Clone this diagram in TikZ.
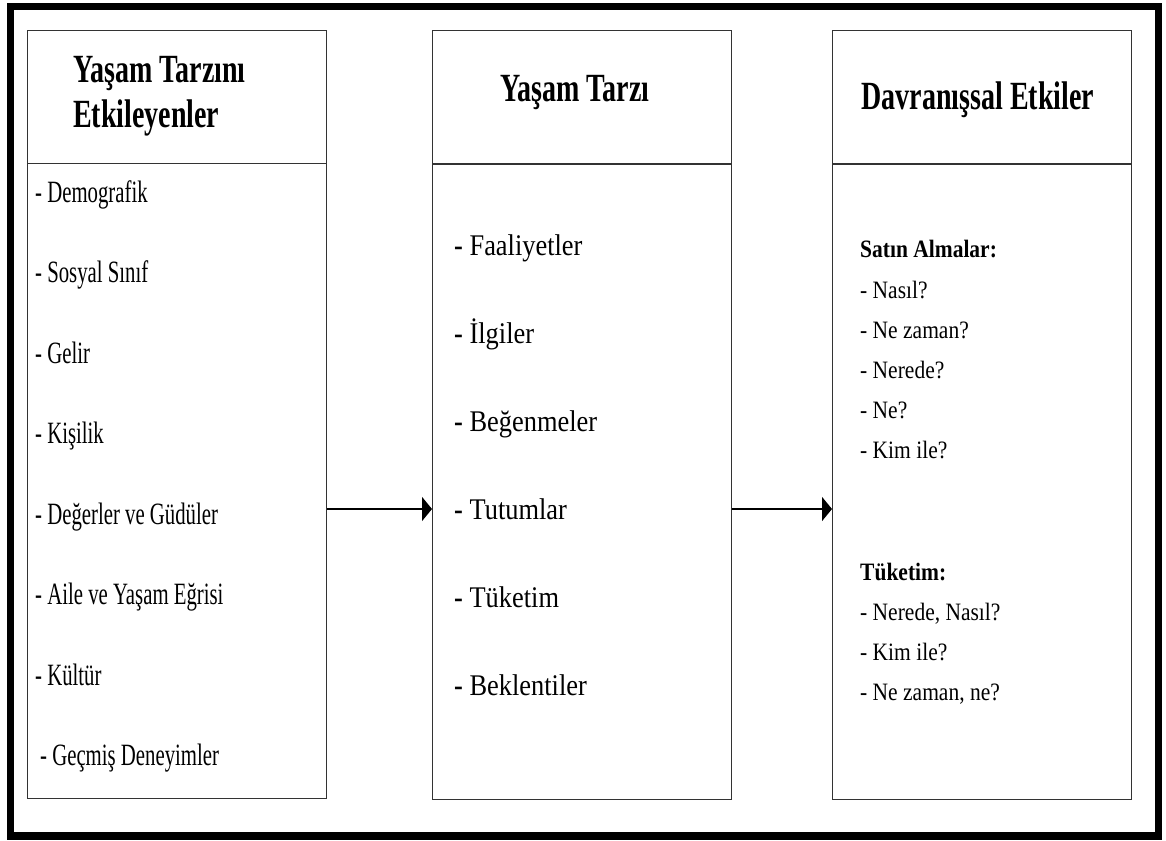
\documentclass[tikz,border=0pt]{standalone}
\usepackage{fontspec}
\setmainfont{Liberation Serif}
\newfontfamily\solfont[FakeStretch=0.67]{Liberation Serif}
\newfontfamily\ortafont[FakeStretch=0.88]{Liberation Serif}
\newfontfamily\sagfont[FakeStretch=0.86]{Liberation Serif}
\newfontfamily\baslikfont[FakeStretch=0.7]{Liberation Serif}
\usetikzlibrary{arrows.meta}

\begin{document}
\begin{tikzpicture}[x=1pt, y=-1pt,
     kutu/.style={draw=black!80, line width=1.4pt, minimum width=299pt, anchor=north west, inner sep=0pt},
     baslik/.style={kutu, minimum height=133pt},
     govde/.style={kutu, minimum height=635pt},
     bastext/.style={font=\baslikfont\bfseries\fontsize{40}{45}\selectfont, align=left, inner sep=0pt},
     sol/.style={anchor=base west, inner sep=0pt, font=\solfont\fontsize{31}{36}\selectfont},
     orta/.style={anchor=base west, inner sep=0pt, font=\ortafont\fontsize{30}{35}\selectfont},
     sag/.style={anchor=base west, inner sep=0pt, font=\sagfont\fontsize{25}{30}\selectfont},
     ok/.style={line width=1.5pt, -{Triangle[length=10pt,width=24pt]}}]

   \useasboundingbox (0,0) rectangle (1166,840);
   \draw[line width=7.5pt] (10.5,6.5) rectangle (1158.5,836);

   % basliklar
   \node[baslik] (etkH) at (27,30) {};
   \node[baslik] (tarzH) at (432,30) {};
   \node[baslik] (davH) at (832,30) {};
   \node[bastext, anchor=west] (etkT) at (73,96) {Yaşam Tarzını\\Etkileyenler};
   \node[bastext, anchor=base] (tarzT) at (575,102) {Yaşam Tarzı};
   \node[bastext, anchor=base] (davT) at (978,110) {Davranışsal Etkiler};

   % govdeler
   \node[govde] (etkB) at (27,163) {};
   \node[govde] (tarzB) at (432,164) {};
   \node[govde] (davB) at (832,164) {};

   \foreach \m [count=\i from 0] in {Demografik, Sosyal Sınıf, Gelir, Kişilik, Değerler ve Güdüler, Aile ve Yaşam Eğrisi, Kültür}
     \node[sol] (sol\i) at (35,202+80.5*\i) {- \m};
   \node[sol] (sol7) at (40,765) {- Geçmiş Deneyimler};

   \foreach \m [count=\i from 0] in {Faaliyetler, İlgiler, Beğenmeler, Tutumlar, Tüketim, Beklentiler}
     \node[orta] (orta\i) at (454,255+88*\i) {\textbf{-} \m};

   \node[sag] (satin) at (860,257) {\bfseries Satın Almalar:};
   \foreach \m [count=\i from 0] in {Nasıl?, Ne zaman?, Nerede?, Ne?, Kim ile?}
     \node[sag] (satin\i) at (860,298+40*\i) {- \m};
   \node[sag] (tuk) at (860,580) {\bfseries Tüketim:};
   \foreach \m [count=\i from 0] in {{Nerede, Nasıl?}, Kim ile?, {Ne zaman, ne?}}
     \node[sag] (tuk\i) at (860,620+40*\i) {- \m};

   % oklar
   \coordinate (akis) at (0,509);
   \draw[ok] (etkB.east |- akis) -- (tarzB.west |- akis);
   \draw[ok] (tarzB.east |- akis) -- (davB.west |- akis);
\end{tikzpicture}
\end{document}
